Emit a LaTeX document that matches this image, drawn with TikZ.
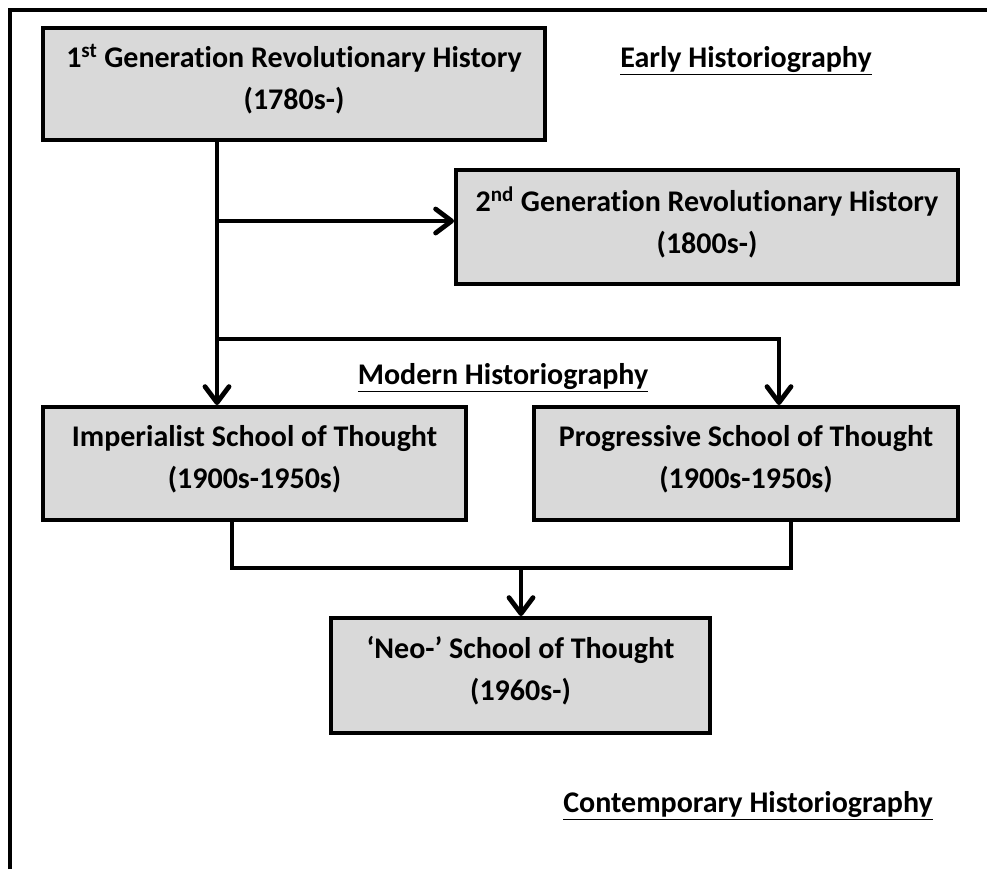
\documentclass[tikz,border=0pt]{standalone}
\usepackage{fontspec}
\setmainfont{Carlito}[Ligatures=NoCommon]
\usetikzlibrary{arrows.meta}

\begin{document}
\begin{tikzpicture}[x=0.75pt,y=-0.75pt,
  era/.style={draw=black,line width=3pt,fill=black!15,align=center,inner sep=0pt,
    text depth=10pt,font=\fontsize{22.5}{31.5}\selectfont\bfseries},
  heading/.style={font=\fontsize{22.5}{27}\selectfont\bfseries},
  link/.style={line width=3.6pt},
  flow/.style={link,-{Straight Barb[round,length=12pt,width=18pt]}}]

\useasboundingbox (0,0) rectangle (987,869);
\draw[line width=3pt] (10,869) -- (10,10) -- (987,10);

% boxes
\node[era, minimum width=376.5pt, minimum height=84pt] (gen1) at (294,84)
  {1\textsuperscript{st} Generation Revolutionary History\\(1780s-)};
\node[era, minimum width=376.5pt, minimum height=85.5pt] (gen2) at (707,227)
  {2\textsuperscript{nd} Generation Revolutionary History\\(1800s-)};
\node[era, minimum width=317.25pt, minimum height=84.75pt] (imperial) at (254.5,463.5)
  {Imperialist School of Thought\\(1900s-1950s)};
\node[era, minimum width=318pt, minimum height=84.75pt] (progress) at (746,463.5)
  {Progressive School of Thought\\(1900s-1950s)};
\node[era, minimum width=284.25pt, minimum height=86.25pt] (neo) at (520.5,675.5)
  {`Neo-' School of Thought\\(1960s-)};

% headings
\node[heading] (early) at (746,61) {\underline{Early Historiography}};
\node[heading] (modern) at (503,378) {\underline{Modern Historiography}};
\node[heading] (contemp) at (748,806) {\underline{Contemporary Historiography}};

% connectors
\coordinate (trunk) at (217,221);
\coordinate (fork) at (217,339);
\coordinate (forkR) at (779,339);
\coordinate (joinL) at (232,568);
\coordinate (joinR) at (791,568);
\coordinate (join) at (521,568);

\draw[flow] (gen1.south -| trunk) -- (imperial.north -| trunk);
\draw[flow] (trunk) -- (gen2.west |- trunk);
\draw[flow] (fork) -- (forkR) -- (progress.north -| forkR);
\draw[link] (imperial.south -| joinL) -- (joinL) -- (joinR) -- (progress.south -| joinR);
\draw[flow] (join) -- (neo.north -| join);
\end{tikzpicture}
\end{document}
